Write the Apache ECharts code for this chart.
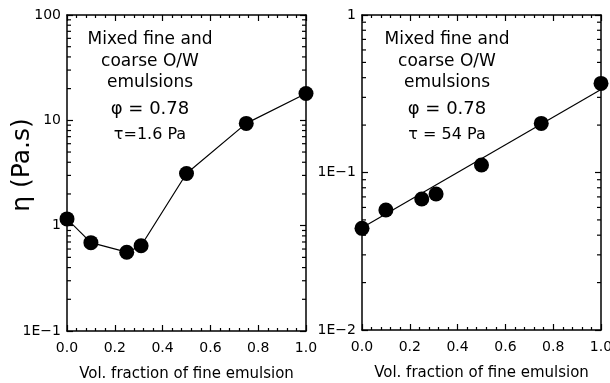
<!DOCTYPE html>
<html>
<head>
<meta charset="utf-8">
<script src="https://cdn.jsdelivr.net/npm/echarts@6/dist/echarts.min.js"></script>
<style>html,body{margin:0;padding:0;background:#fff}#c{width:610px;height:383px}</style>
</head>
<body>
<div id="c"></div>
<script>
// ---- data ----
const fineFraction = [0.0, 0.1, 0.25, 0.31, 0.5, 0.75, 1.0];
const viscLowStress = [1.16, 0.69, 0.56, 0.645, 3.13, 9.35, 18.0];   // tau = 1.6 Pa
const viscHighStress = [0.0442, 0.0578, 0.0679, 0.073, 0.1116, 0.205, 0.368]; // tau = 54 Pa
const fitX = [0.0, 1.0];
const fitHighStress = [0.0446, 0.337];
const xTickLabels = ['0.0', '0.2', '0.4', '0.6', '0.8', '1.0'];
const leftYRange = [0.1, 100];
const rightYRange = [0.01, 1];
const xTitle = 'Vol. fraction of fine emulsion';
const yTitle = 'η (Pa.s)';
const leftNote = ['Mixed fine and', 'coarse O/W', 'emulsions', 'φ = 0.78', 'τ=1.6 Pa'];
const rightNote = ['Mixed fine and', 'coarse O/W', 'emulsions', 'φ = 0.78', 'τ = 54 Pa'];

const FONT = 'DejaVu Sans';
// minor log ticks (2..9 x 10^d) on both vertical frame edges (x = 0 and x = 1)
function minorLogTicks(lo, hi) {
  const out = [];
  for (let d = Math.round(Math.log10(lo)); d < Math.round(Math.log10(hi)); d++) {
    for (let k = 2; k <= 9; k++) {
      out.push([0, k * Math.pow(10, d)]);
      out.push([1, k * Math.pow(10, d)]);
    }
  }
  return out;
}
function logLabel(v) {
  const e = Math.round(Math.log10(v));
  return e >= 0 ? String(Math.round(Math.pow(10, e))) : '1E\u2212' + (-e);
}
const chart = echarts.init(document.getElementById('c'), null, {renderer: 'canvas'});
const axisLine = {show: true, onZero: false, lineStyle: {color: '#000', width: 1.5}};
function xAxisDef(gi, pos, showLabel, name) {
  return {
    type: 'value', gridIndex: gi, position: pos, min: 0, max: 1, interval: 0.2,
    axisLine: axisLine,
    axisTick: {show: true, inside: true, length: 6, lineStyle: {color: '#000', width: 1.2}},
    minorTick: {show: true, splitNumber: 5, length: 3, lineStyle: {color: '#000', width: 1.2}},
    splitLine: {show: false}, minorSplitLine: {show: false},
    axisLabel: {show: showLabel, color: '#000', fontFamily: FONT, fontSize: 14, margin: 10,
      formatter: v => xTickLabels[Math.round(v / 0.2)]},
    name: name || '', nameLocation: 'middle', nameGap: 36,
    nameTextStyle: {color: '#000', fontFamily: FONT, fontSize: 15}
  };
}
function yAxisDef(gi, pos, range, showLabel) {
  return {
    type: 'log', logBase: 10, gridIndex: gi, position: pos, min: range[0], max: range[1],
    axisLine: axisLine,
    axisTick: {show: true, inside: true, length: 6, lineStyle: {color: '#000', width: 1.2}},
    splitLine: {show: false},
    axisLabel: {show: showLabel, color: '#000', fontFamily: FONT, fontSize: 14, margin: 6,
      formatter: logLabel}
  };
}
function minorSeries(xi, yi, range) {
  return {
    type: 'custom', xAxisIndex: xi, yAxisIndex: yi, silent: true, clip: false, z: 10,
    data: minorLogTicks(range[0], range[1]),
    encode: {x: 0, y: 1},
    renderItem: function (params, api) {
      const side = api.value(0);
      const p = api.coord([side, api.value(1)]);
      const dir = side < 0.5 ? 1 : -1;
      return {
        type: 'line',
        shape: {x1: p[0], y1: p[1], x2: p[0] + dir * 4, y2: p[1]},
        style: {stroke: '#000', lineWidth: 1.2}
      };
    }
  };
}
const noteY = [40, 62, 83, 109, 135];
const noteSize = [17, 17, 17, 18, 16];
function notes(lines, cx) {
  return lines.map((t, i) => ({
    type: 'text', x: cx, y: noteY[i],
    style: {text: t, fill: '#000', font: noteSize[i] + 'px "' + FONT + '"', textAlign: 'center', textVerticalAlign: 'middle'}
  }));
}
const scatterStyle = {color: '#000', opacity: 1};
chart.setOption({
  backgroundColor: '#fff',
  animation: false,
  grid: [
    {left: 67, top: 15, width: 239, height: 316, containLabel: false, outerBoundsMode: 'none'},
    {left: 362, top: 15, width: 239, height: 315, containLabel: false, outerBoundsMode: 'none'}
  ],
  xAxis: [
    xAxisDef(0, 'bottom', true, xTitle),
    xAxisDef(0, 'top', false),
    xAxisDef(1, 'bottom', true, xTitle),
    xAxisDef(1, 'top', false)
  ],
  yAxis: [
    yAxisDef(0, 'left', leftYRange, true),
    yAxisDef(0, 'right', leftYRange, false),
    yAxisDef(1, 'left', rightYRange, true),
    yAxisDef(1, 'right', rightYRange, false)
  ],
  series: [
    {type: 'line', xAxisIndex: 0, yAxisIndex: 0, data: fineFraction.map((x, i) => [x, viscLowStress[i]]),
      symbol: 'circle', symbolSize: 15, itemStyle: scatterStyle, lineStyle: {color: '#000', width: 1.2}, clip: false, z: 5},
    {type: 'line', xAxisIndex: 2, yAxisIndex: 2, data: fitX.map((x, i) => [x, fitHighStress[i]]),
      symbol: 'none', lineStyle: {color: '#000', width: 1.2}, clip: false, z: 4},
    {type: 'scatter', xAxisIndex: 2, yAxisIndex: 2, data: fineFraction.map((x, i) => [x, viscHighStress[i]]),
      symbol: 'circle', symbolSize: 15, itemStyle: scatterStyle, clip: false, z: 5},
    minorSeries(0, 0, leftYRange),
    minorSeries(2, 2, rightYRange)
  ],
  graphic: [
    ...notes(leftNote, 150), ...notes(rightNote, 447),
    {type: 'text', x: 22, y: 165, rotation: Math.PI / 2,
      style: {text: yTitle, fill: '#000', font: '25px "' + FONT + '"', textAlign: 'center', textVerticalAlign: 'middle'}}
  ]
});
</script>
</body>
</html>
